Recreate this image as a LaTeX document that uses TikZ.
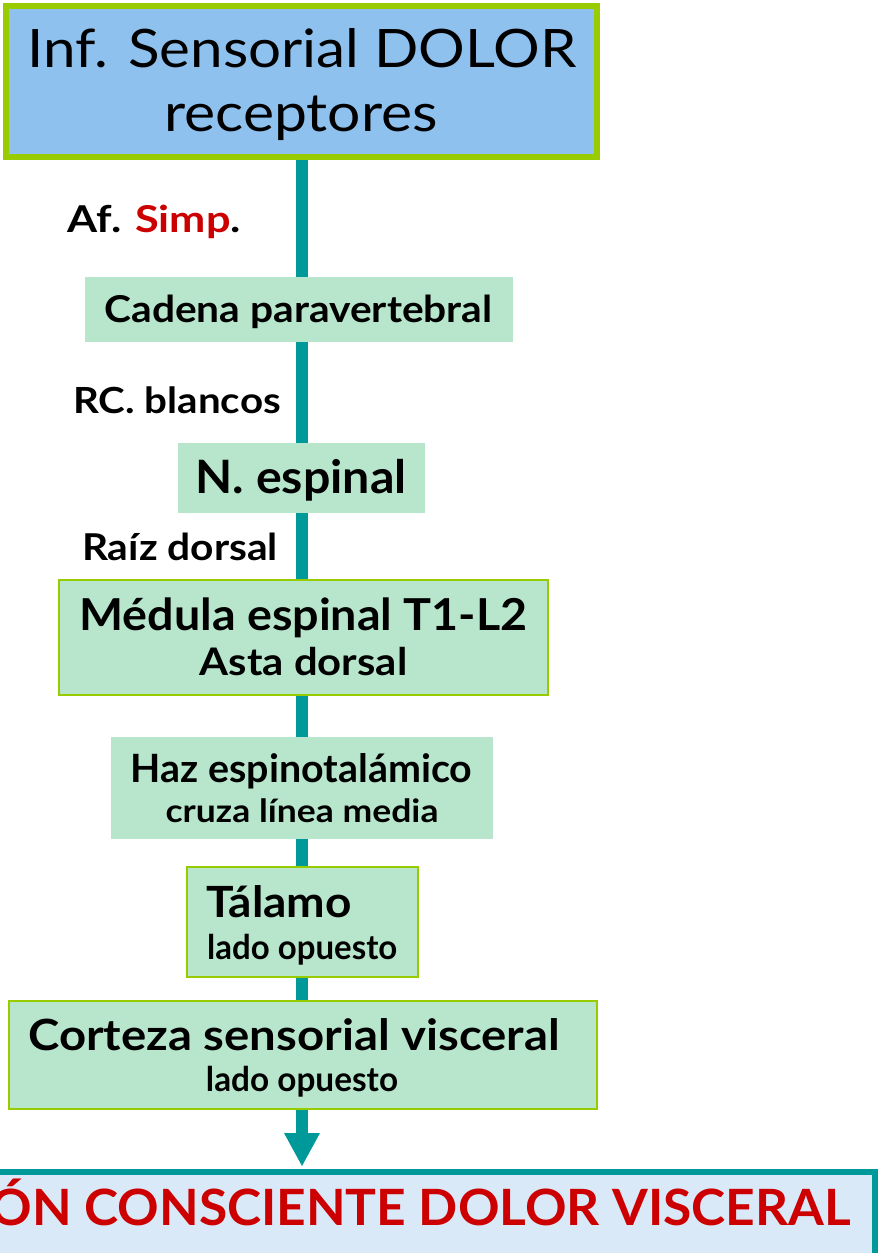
\documentclass[tikz,border=0pt]{standalone}
\usepackage{fontspec}
\setmainfont{Lato}
\usetikzlibrary{arrows.meta}
\definecolor{teal1}{HTML}{009999}
\definecolor{lgreen}{HTML}{99CC00}
\definecolor{mint}{HTML}{B7E6CC}
\definecolor{topblue}{HTML}{8FC1EF}
\definecolor{botblue}{HTML}{DAE9F8}
\definecolor{redt}{HTML}{CC0000}
\newcommand\hsx[2]{\scalebox{#1}[1]{#2}}
\tikzset{
  boxa/.style={fill=mint, draw=lgreen, line width=2pt},
  boxb/.style={fill=mint, draw=none},
  lbl/.style={font=\bfseries, inner sep=0pt},
  conn/.style={draw=teal1, line width=12pt},
}
\begin{document}
\begin{tikzpicture}[x=1pt,y=-1pt]
\useasboundingbox (0,0) rectangle (881,1253);
% connector (drawn behind boxes)
\coordinate (ltop) at (302,160);
\coordinate (lbot) at (302,1166);
\draw[conn] (ltop) -- (302,1133);
\fill[teal1] (284,1133) -- (320,1133) -- (lbot) -- cycle;
% top box
\node[draw=lgreen, fill=topblue, line width=6pt, minimum width=591pt, minimum height=151pt, inner sep=0pt] (top) at (301.5,81.5) {};
\node[inner sep=0pt, anchor=base, font=\fontsize{53}{60}\selectfont] at (302,67) {\hsx{1.10}{Inf. Sensorial DOLOR}};
\node[inner sep=0pt, anchor=base, font=\fontsize{53}{60}\selectfont] at (301,131) {\hsx{1.11}{receptores}};
% labels
\node[lbl, anchor=base west, font=\fontsize{37}{44}\selectfont\bfseries] (af) at (67,232) {\hsx{1.17}{Af. \textcolor{redt}{Simp}.}};
\node[lbl, anchor=base east, font=\fontsize{36}{44}\selectfont\bfseries] (rc) at (281,413) {\hsx{1.12}{RC. blancos}};
\node[lbl, anchor=base east, font=\fontsize{37}{44}\selectfont\bfseries] (raiz) at (278,560) {\hsx{1.10}{Raíz dorsal}};
% cadena
\node[boxb, minimum width=428pt, minimum height=65pt, inner sep=0pt] (cad) at (299,309) {};
\node[lbl, anchor=base, font=\fontsize{37}{44}\selectfont\bfseries] at (298.5,322) {\hsx{1.10}{Cadena paravertebral}};
% N espinal
\node[boxb, minimum width=247pt, minimum height=70pt, inner sep=0pt] (nesp) at (301.5,478) {};
\node[lbl, anchor=base, font=\fontsize{46}{52}\selectfont\bfseries] at (301,493) {\hsx{1.05}{N. espinal}};
% medula
\node[boxa, minimum width=489pt, minimum height=115pt, inner sep=0pt] (med) at (303.5,637.5) {};
\node[lbl, anchor=base, font=\fontsize{44}{50}\selectfont\bfseries] at (303.5,630) {\hsx{1.06}{Médula espinal T1-L2}};
\node[lbl, anchor=base, font=\fontsize{38}{44}\selectfont\bfseries] at (303.5,675) {\hsx{1.10}{Asta dorsal}};
% haz
\node[boxb, minimum width=382pt, minimum height=102pt, inner sep=0pt] (haz) at (302,787.5) {};
\node[lbl, anchor=base, font=\fontsize{39}{44}\selectfont\bfseries] at (301.5,782) {\hsx{1.01}{Haz espinotalámico}};
\node[lbl, anchor=base, font=\fontsize{32}{38}\selectfont\bfseries] at (302,822) {\hsx{1.11}{cruza línea media}};
% talamo
\node[boxa, minimum width=231pt, minimum height=110pt, inner sep=0pt] (tal) at (302.5,922) {};
\node[lbl, anchor=base west, font=\fontsize{43}{50}\selectfont\bfseries] at (206,917) {\hsx{1.07}{Tálamo}};
\node[lbl, anchor=base west, font=\fontsize{34}{40}\selectfont\bfseries] at (207,959) {\hsx{0.97}{lado opuesto}};
% corteza
\node[boxa, minimum width=588pt, minimum height=108pt, inner sep=0pt] (cor) at (302.5,1055) {};
\node[lbl, anchor=base west, font=\fontsize{43}{50}\selectfont\bfseries] at (28,1050) {\hsx{1.10}{Corteza sensorial visceral}};
\node[lbl, anchor=base, font=\fontsize{34}{40}\selectfont\bfseries] at (302,1091) {\hsx{0.98}{lado opuesto}};
% bottom box
\begin{scope}
\clip (0,0) rectangle (881,1253);
\node[draw=teal1, fill=botblue, line width=6pt, minimum width=900pt, minimum height=88pt, inner sep=0pt, anchor=north east] (bot) at (878,1169) {};
\node[lbl, anchor=base east, text=redt, font=\fontsize{50}{56}\selectfont\bfseries] at (851,1225) {\hsx{1.03}{PERCEPCIÓN CONSCIENTE DOLOR VISCERAL}};
\end{scope}
\end{tikzpicture}
\end{document}
